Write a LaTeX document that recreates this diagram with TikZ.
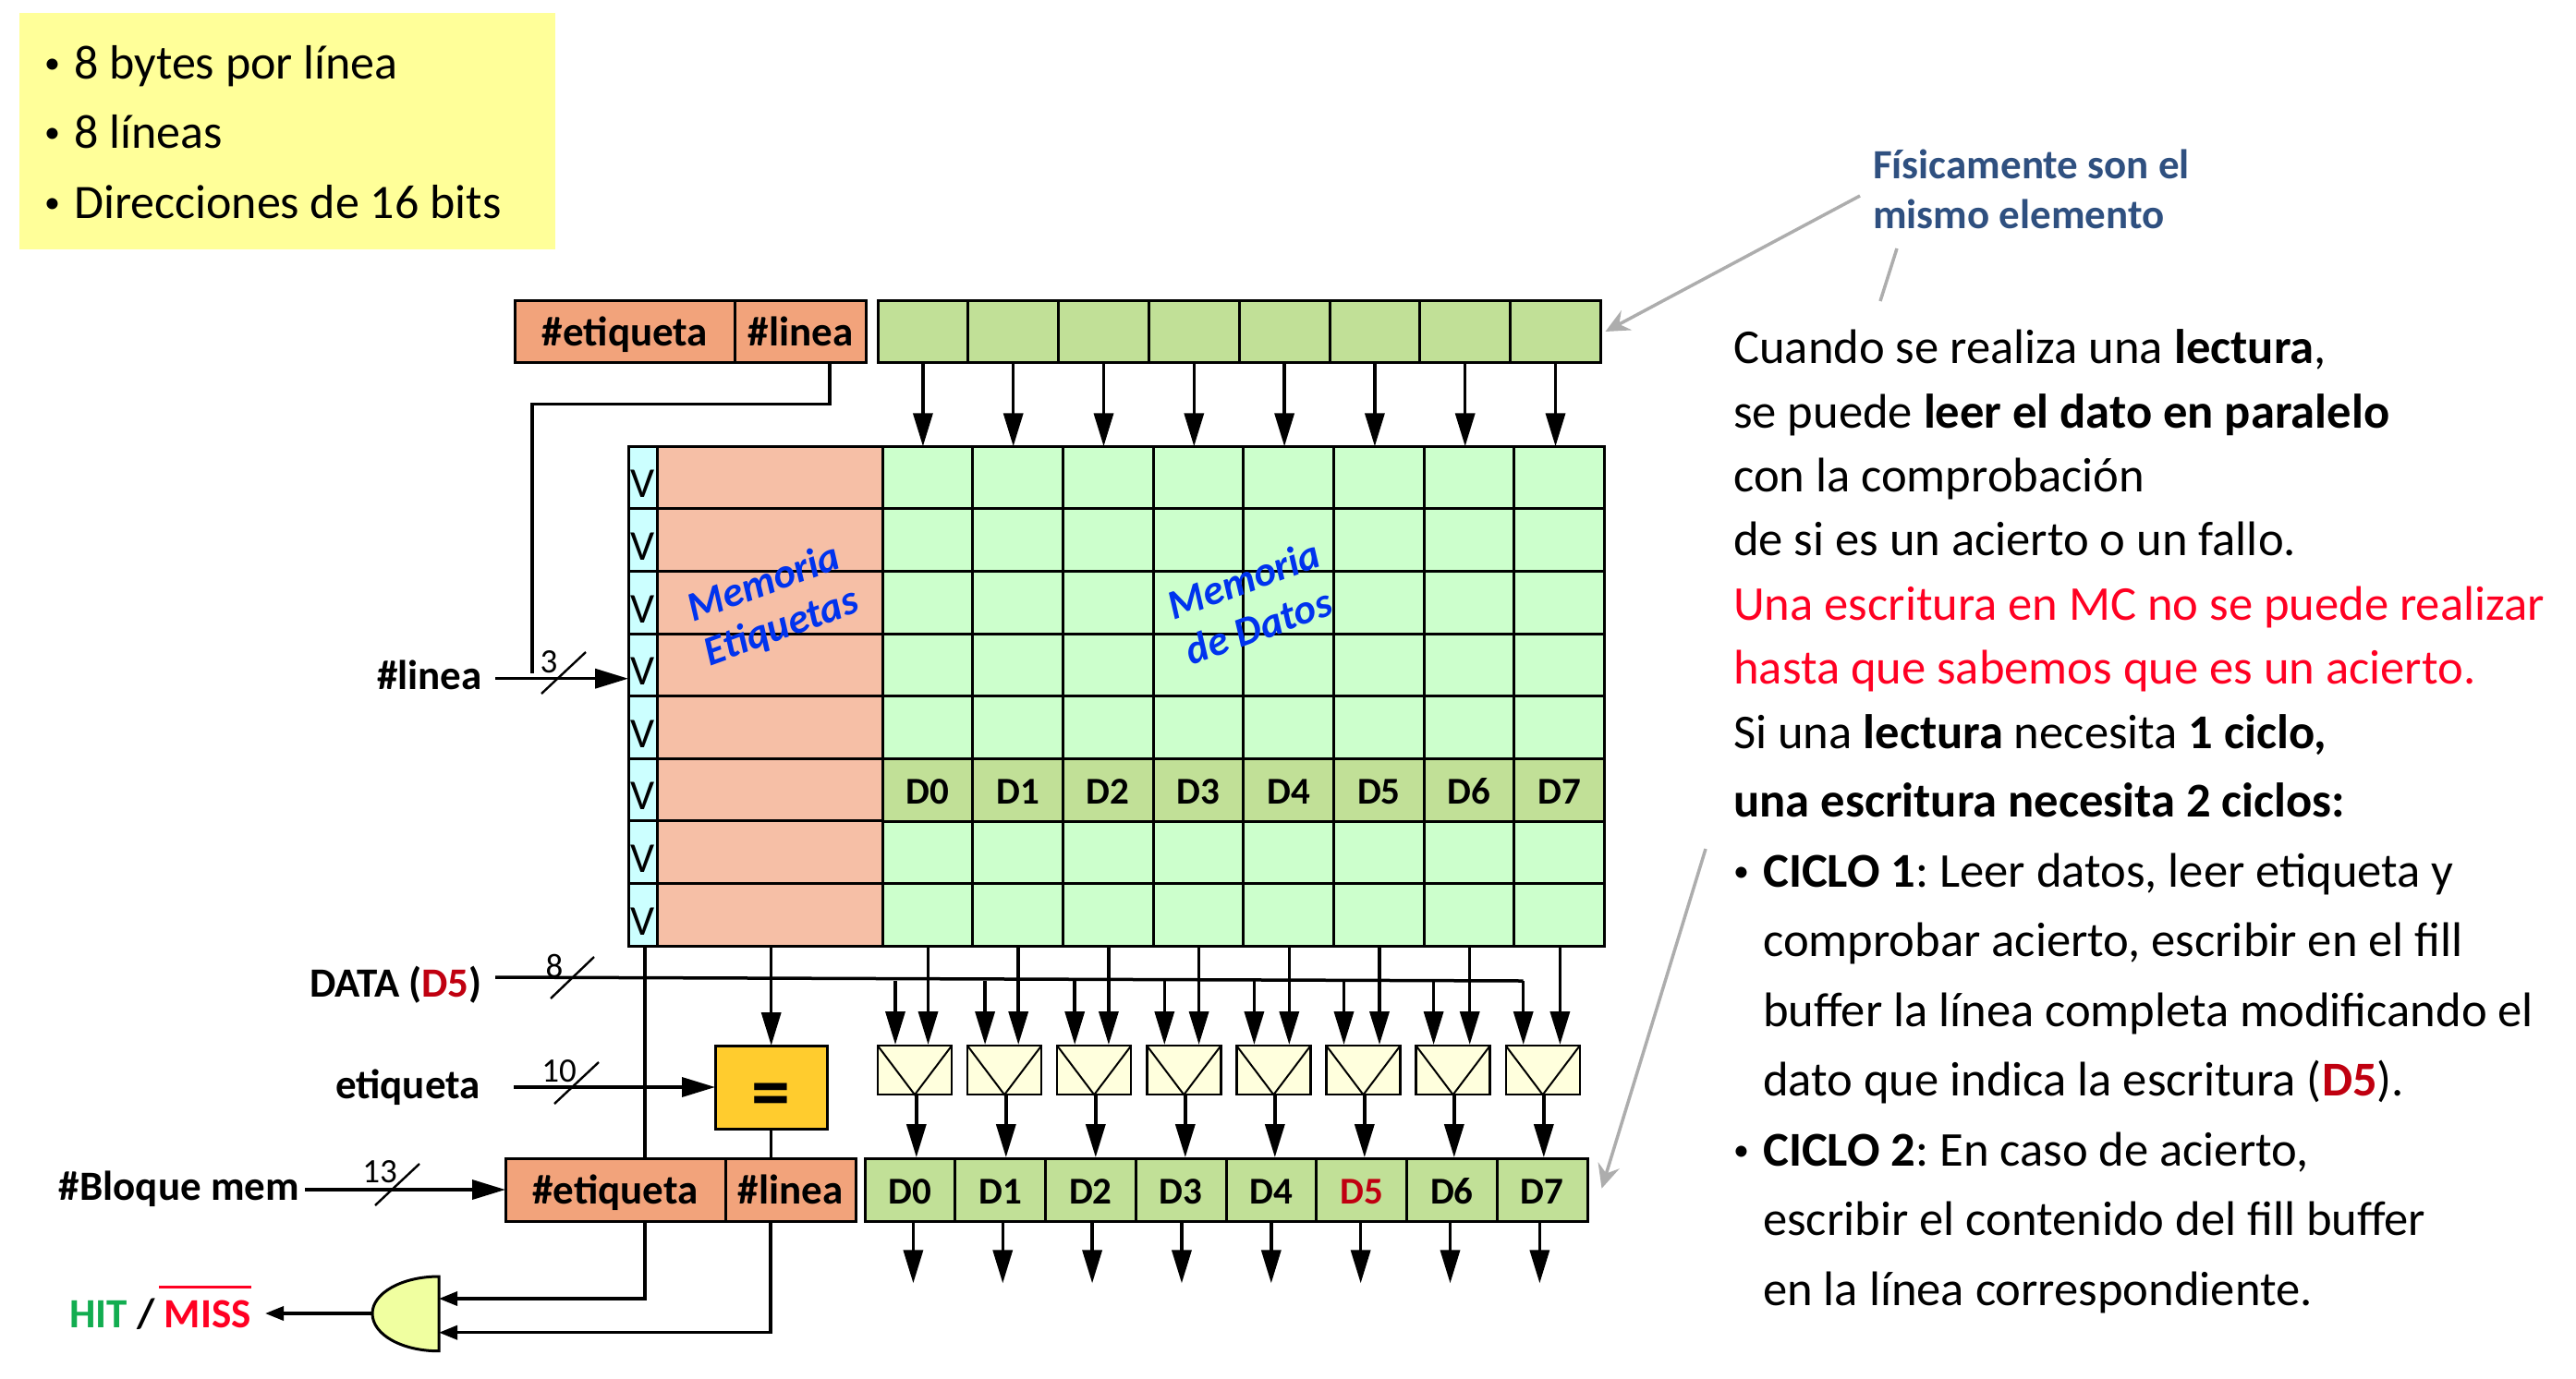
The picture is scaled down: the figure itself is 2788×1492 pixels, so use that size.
\documentclass[tikz,border=0pt]{standalone}
\usepackage{fontspec}
\setmainfont{Carlito}
\usetikzlibrary{arrows.meta,calc}
\newcommand{\fsz}[1]{\fontsize{#1}{#1}\selectfont}
\newcommand{\bul}{\makebox[32pt][l]{\raisebox{6pt}{\fsz{34}•}}}
\frenchspacing
\definecolor{regor}{HTML}{F2A37B}
\definecolor{reggr}{HTML}{C1E097}
\definecolor{tagbg}{HTML}{F6BFA6}
\definecolor{databg}{HTML}{CCFFCC}
\definecolor{vbg}{HTML}{CCFFFF}
\definecolor{eqbg}{HTML}{FFCC2E}
\definecolor{muxbg}{HTML}{FFFFDD}
\definecolor{gatebg}{HTML}{F0FFA0}
\definecolor{notebg}{HTML}{FFFF99}
\definecolor{navy}{HTML}{2F5080}
\definecolor{dred}{HTML}{C00010}
\definecolor{bred}{HTML}{FF0022}
\definecolor{hitgr}{HTML}{12AD50}
\definecolor{memblue}{HTML}{0033EE}
\definecolor{arrgray}{HTML}{ADADAD}
\tikzset{
  cell/.style={draw=black,line width=3pt,inner sep=0pt,outer sep=0pt,font=\fsz{45}\bfseries,text height=36pt,text depth=6pt},
  wire/.style={draw=black,line width=3.5pt},
  arw/.style={wire,-{Triangle[length=36pt,width=21pt]}},
  sarw/.style={wire,-{Triangle[length=20pt,width=15pt]}},
  busslash/.style={draw=black,line width=2.4pt},
  busnum/.style={inner sep=0pt,font=\fsz{37}},
  garw/.style={draw=arrgray,line width=3.5pt,-{Stealth[length=26pt,width=24pt,inset=9pt]}},
  gline/.style={draw=arrgray,line width=3.5pt},
  txt/.style={inner sep=0pt,anchor=base west,font=\fsz{52.6}},
  lbl/.style={inner sep=0pt,font=\fsz{45}\bfseries},
  memtxt/.style={inner sep=0pt,font=\fsz{45}\bfseries\itshape,text=memblue,rotate=20},
}
\newcommand{\busmark}[5]{\coordinate (#1a) at (#2,#3);\coordinate (#1b) at (#4,#5);\draw[busslash] (#1a) -- (#1b);}
\begin{document}
\begin{tikzpicture}[x=1pt,y=-1pt]
\useasboundingbox (0,0) rectangle (2788,1492);
% note
\node[fill=notebg,inner sep=0pt,outer sep=0pt,minimum width=580pt,minimum height=256pt] (note) at (311,142) {};
\node[txt,font=\fsz{52}] (n1) at (48,85) {\bul 8 bytes por línea};
\node[txt,font=\fsz{52}] (n2) at (48,160) {\bul 8 líneas};
\node[txt,font=\fsz{52}] (n3) at (48,236) {\bul Direcciones de 16 bits};
% top register
\node[cell,fill=regor,minimum width=239pt,minimum height=67.7pt] (tetq) at (676.5,359) {\#etiqueta};
\node[cell,fill=regor,minimum width=141.5pt,minimum height=67.7pt] (tlin) at (866.7,359) {\#linea};
\foreach \j [evaluate=\j as \cx using {950+97.8*(\j-0.5)}] in {1,...,8}
  \node[cell,fill=reggr,minimum width=97.8pt,minimum height=67.7pt] (tc\j) at (\cx,359) {};
% matrix
\foreach \i [evaluate=\i as \cy using {483.3+67.6*(\i-0.5)},evaluate=\i as \by using {483.3+67.6*\i-12}] in {1,...,8}{
  \node[cell,fill=vbg,minimum width=31pt,minimum height=67.6pt] (mv\i) at (695.5,\cy) {};
  \node[inner sep=0pt,anchor=base,font=\fsz{46}] (vt\i) at (695.5,\by) {V};
  \node[cell,fill=tagbg,minimum width=244pt,minimum height=67.6pt] (mt\i) at (833,\cy) {};
  \foreach \j [evaluate=\j as \cx using {955+97.7*(\j-0.5)}] in {1,...,8}
    \node[cell,fill=databg,minimum width=97.7pt,minimum height=67.6pt] (m\i-\j) at (\cx,\cy) {};
}
\foreach \j [evaluate=\j as \cx using {955+97.7*(\j-0.5)},evaluate=\j as \k using {int(\j-1)}] in {1,...,8}
  \node[cell,fill=reggr,minimum width=97.7pt,minimum height=67.6pt,font=\fsz{41}\bfseries] (h\j) at (\cx,855.3) {D\k};
\node[memtxt] (mem1) at (826,629) {Memoria};
\node[memtxt] (mem2) at (846,680) {Etiquetas};
\node[memtxt] (mem3) at (1346,627) {Memoria};
\node[memtxt] (mem4) at (1362,678) {de Datos};
% top arrows
\foreach \j in {1,...,8}
  \draw[arw] (tc\j.south) -- (tc\j.south |- m1-\j.north);
\coordinate (linin) at (576,729);
\draw[wire] (tlin.south -| 898,0) |- (linin |- 0,437.7) -- (linin);
% left labels
\coordinate (linstart) at (536,734.7);
\node[lbl,anchor=east] (linlbl) at (522,731) {\#linea};
\draw[arw] (linstart) -- (linstart -| mv4.west);
\busmark{s3}{586}{751}{634}{706}
\node[busnum] (n3b) at (594,717) {3};
% data bus
\coordinate (dbs) at (536,1058);
\coordinate (dbe) at (1648.6,1062);
\draw[wire] (dbs) -- (dbe);
\node[lbl,anchor=east] (datalbl) at (522,1066) {DATA (\textcolor{dred}{D5})};
\busmark{s8}{596}{1081}{643}{1036}
\node[busnum] (n8) at (600,1046) {8};
% etiqueta input and comparator
\node[cell,fill=eqbg,minimum width=121.4pt,minimum height=90pt] (eq) at (834.7,1177) {};
\node[inner sep=0pt,font=\fsz{84}\bfseries] (eqt) at (834.7,1192) {=};
\coordinate (etqs) at (556,1177);
\node[lbl,anchor=east] (etqlbl) at (520,1177) {etiqueta};
\draw[arw] (etqs) -- (eq.west);
\busmark{s10}{600}{1195}{648}{1150}
\node[busnum] (n10) at (605,1160) {10};
\draw[arw] (mt8.south -| eq.north) -- (eq.north);
% bottom register
\node[cell,fill=regor,minimum width=238pt,minimum height=68pt] (betq) at (666,1288) {\#etiqueta};
\node[cell,fill=regor,minimum width=141pt,minimum height=68pt] (blin) at (855.5,1288) {\#linea};
\foreach \j [evaluate=\j as \cx using {936+97.75*(\j-0.5)},evaluate=\j as \k using {int(\j-1)}] in {1,...,8}{
  \ifnum\j=6
    \node[cell,fill=reggr,minimum width=97.75pt,minimum height=68pt,font=\fsz{41}\bfseries,text=dred] (b\j) at (\cx,1288) {D\k};
  \else
    \node[cell,fill=reggr,minimum width=97.75pt,minimum height=68pt,font=\fsz{41}\bfseries] (b\j) at (\cx,1288) {D\k};
  \fi
}
\draw[wire] (mv8.south -| 698,0) -- (betq.north -| 698,0);
\draw[wire] (eq.south) -- (eq.south |- blin.north);
% #Bloque mem
\coordinate (blqs) at (330,1288);
\node[lbl,anchor=east] (blqlbl) at (324,1287) {\#Bloque mem};
\draw[arw] (blqs) -- (betq.west);
\busmark{s13}{406}{1305}{454}{1260}
\node[busnum] (n13) at (411,1269) {13};
% muxes
\foreach \j [evaluate=\j as \mx using {990+97.1*(\j-1)},evaluate=\j as \ix using {969+97.1*(\j-1)},evaluate=\j as \dx using {1004.5+97.7*(\j-1)},evaluate=\j as \ox using {991.8+97*(\j-1)},evaluate=\j as \bx using {988.4+96.85*(\j-1)}] in {1,...,8}{
  \node[draw=black,line width=2.4pt,fill=muxbg,inner sep=0pt,outer sep=0pt,minimum width=80pt,minimum height=53pt] (mux\j) at (\mx,1158.7) {};
  \draw[line width=2pt] (mux\j.north west) -- (mux\j.south) -- (mux\j.north east);
  \coordinate (dtap\j) at (\ix,1062);
  \draw[arw] (dtap\j) -- (\ix,1131);
  \draw[arw] (\dx,1024.3) -- (\dx,1131);
  \draw[arw] (\ox,1185.3) -- (\ox,1253);
  \draw[arw] (\bx,1322) -- (\bx,1389.3);
}
% and gate
\coordinate (gt) at (475,1382);
\coordinate (gb) at (475,1462.7);
\coordinate (gl) at (403,1422);
\draw[draw=black,line width=3pt,fill=gatebg] (gt) .. controls (435,1382) and (403,1400) .. (gl) .. controls (403,1445) and (435,1462.7) .. (gb) -- cycle;
\draw[sarw] (betq.south -| 698,0) |- (gt |- 0,1406);
\draw[sarw] (blin.south -| 834,0) |- (gt |- 0,1442.7);
\coordinate (hitend) at (287,1422);
\draw[sarw] (gl) -- (hitend);
\node[lbl,anchor=base east] (hit) at (272,1437) {\textcolor{hitgr}{HIT} / \textcolor{bred}{MISS}};
\coordinate (ova) at (172,1393.7);
\coordinate (ovb) at (272,1393.7);
\draw[draw=bred,line width=2.8pt] (ova) -- (ovb);
% notes right
\node[txt,font=\fsz{45}\bfseries,text=navy] (f1) at (2027,193.5) {Físicamente son el};
\node[txt,font=\fsz{45}\bfseries,text=navy] (f2) at (2027,247.5) {mismo elemento};
\coordinate (ga) at (2013,212);
\coordinate (gb2) at (2053,269);
\coordinate (gc) at (2035,326);
\coordinate (gd) at (1846,919);
\coordinate (ge) at (1733.5,1286.7);
\draw[garw] (ga) -- ($(tc8.east)+(5,0)$);
\draw[gline] (gb2) -- (gc);
\draw[garw] (gd) -- (ge);
\node[txt] (t1) at (1876,393.5) {Cuando se realiza una \textbf{lectura},};
\node[txt] (t2) at (1876,463) {se puede \textbf{leer el dato en paralelo}};
\node[txt] (t3) at (1876,532) {con la comprobación};
\node[txt] (t4) at (1876,601.5) {de si es un acierto o un fallo.};
\node[txt,text=bred] (t5) at (1876,671) {Una escritura en MC no se puede realizar};
\node[txt,text=bred] (t6) at (1876,740.5) {hasta que sabemos que es un acierto.};
\node[txt] (t7) at (1876,810) {Si una \textbf{lectura} necesita \textbf{1 ciclo,}};
\node[txt] (t8) at (1876,884.5) {\textbf{una escritura necesita 2 ciclos:}};
\node[txt] (t9) at (1876,960.5) {\bul\textbf{CICLO 1}: Leer datos, leer etiqueta y};
\node[txt] (t10) at (1908,1035) {comprobar acierto, escribir en el fill};
\node[txt] (t11) at (1908,1111.5) {buffer la línea completa modificando el};
\node[txt] (t12) at (1908,1186) {dato que indica la escritura (\textbf{\textcolor{dred}{D5}}).};
\node[txt] (t13) at (1876,1262.5) {\bul\textbf{CICLO 2}: En caso de acierto,};
\node[txt] (t14) at (1908,1337.5) {escribir el contenido del fill buffer};
\node[txt] (t15) at (1908,1413.5) {en la línea correspondiente.};
\end{tikzpicture}
\end{document}
